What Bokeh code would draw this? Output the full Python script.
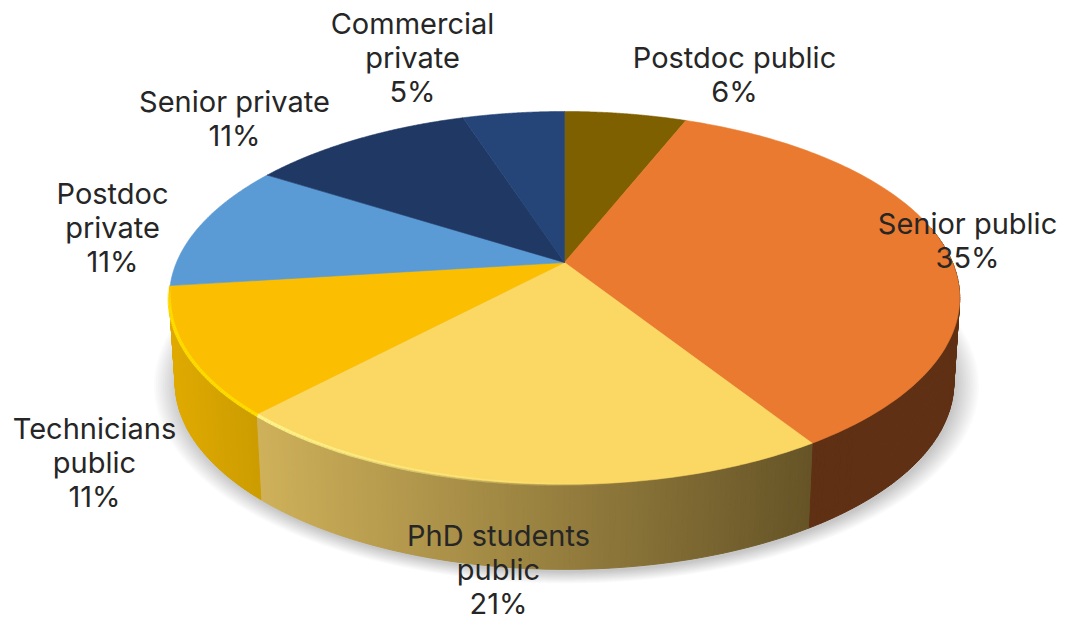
import numpy as np
from bokeh.core.properties import value
from bokeh.embed import file_html
from bokeh.models import ColumnDataSource, Range1d
from bokeh.plotting import figure
from bokeh.resources import INLINE

# Workforce shares, clockwise from twelve o'clock
categories = ["Postdoc public", "Senior public", "PhD students public", "Technicians public",
              "Postdoc private", "Senior private", "Commercial private"]
shares = [6, 35, 21, 11, 11, 11, 5]
label_lines = [["Postdoc public", "6%"], ["Senior public", "35%"],
               ["PhD students", "public", "21%"], ["Technicians", "public", "11%"],
               ["Postdoc", "private", "11%"], ["Senior private", "11%"],
               ["Commercial", "private", "5%"]]

top_colors = ["#7f6000", "#ea7a2f", "#fbd763", "#fbbe00", "#5b9bd5", "#1f3864", "#254478"]
side_left = ["#7f6000", "#5f3013", "#cfb15a", "#e0aa00", "#5b9bd5", "#1f3864", "#254478"]
side_right = ["#7f6000", "#5f3013", "#665427", "#cc9c00", "#5b9bd5", "#1f3864", "#254478"]
label_x = [734, 967, 498, 94, 112, 234, 412]
label_y = [57, 223, 535, 428, 193, 101, 23]
LINE_STEP = 33.8

# Projection of the tilted disc onto the page
CX, CY, RX, RY, PERSP = 564.0, 262.0, 388.0, 179.7, 0.19
DEPTH, BASE_SCALE = 85.0, 0.985


def rim(t):
    u, v = np.sin(t), np.cos(t)
    d = 1 + PERSP * v
    return CX + RX * u / d, CY - RY * v / d


def base(t, grow=1.0, dx=0.0, dy=0.0):
    x, y = rim(t)
    mid_y = CY + 36
    return (CX + (x - CX) * BASE_SCALE * grow + dx,
            mid_y + (y - mid_y) * grow + DEPTH + dy)


def mix(a, b, f):
    ca = np.array([int(a[i:i + 2], 16) for i in (1, 3, 5)], float)
    cb = np.array([int(b[i:i + 2], 16) for i in (1, 3, 5)], float)
    c = ca + (cb - ca) * f
    return "#%02x%02x%02x" % tuple(int(round(n)) for n in c)


p = figure(width=1066, height=621, output_backend="svg", toolbar_location=None,
           x_range=Range1d(0, 1066), y_range=Range1d(621, 0), min_border=0,
           x_axis_type=None, y_axis_type=None, outline_line_color=None)
p.grid.visible = False
p.background_fill_color = "#ffffff"
p.border_fill_color = "#ffffff"

# Soft drop shadow under the disc
ring = np.linspace(0, 2 * np.pi, 240)
for grow in np.linspace(1.06, 1.0, 14):
    sx, sy = base(ring, grow, dx=2, dy=3)
    p.patch(sx, sy, fill_color="#000000", fill_alpha=0.014, line_color=None)

edges = np.cumsum([0] + shares) / sum(shares) * 2 * np.pi

# Outer wall of the three front slices, built from narrow strips so its
# shade can vary along the rim
xs, ys, cols = [], [], []
for i in (1, 2, 3):
    a, b = max(edges[i], np.pi / 2 - 0.2), edges[i + 1]
    n = max(2, int((b - a) / 0.012))
    steps = np.linspace(a, b, n + 1)
    x0 = rim(edges[i + 1])[0]
    x1 = rim(edges[i])[0]
    for s0, s1 in zip(steps[:-1], steps[1:]):
        tx0, ty0 = rim(s0)
        tx1, ty1 = rim(s1)
        bx0, by0 = base(s0)
        bx1, by1 = base(s1)
        xs.append([tx0, tx1, bx1, bx0])
        ys.append([ty0, ty1, by1, by0])
        f = np.clip(((tx0 + tx1) / 2 - x0) / max(x1 - x0, 1), 0, 1)
        cols.append(mix(side_left[i], side_right[i], f))
p.patches(xs, ys, fill_color=cols, line_color=cols, line_width=1)

# Top face
for i, name in enumerate(categories):
    arc = np.linspace(edges[i], edges[i + 1], 120)
    ax, ay = rim(arc)
    src = ColumnDataSource(dict(x=np.r_[CX, ax], y=np.r_[CY, ay]))
    p.patch("x", "y", source=src, fill_color=top_colors[i],
            line_color=top_colors[i], line_width=0.6)

# Bevel glint along the lit front edge, fading out towards the centre
glint = np.linspace(edges[4], edges[2] + 0.45, 140)
gx, gy = rim(glint)
seg_x = [[gx[j], gx[j + 1]] for j in range(len(gx) - 1)]
seg_y = [[gy[j], gy[j + 1]] for j in range(len(gy) - 1)]
seg_c, seg_a = [], []
for j in range(len(gx) - 1):
    t = glint[j]
    if t > edges[3]:
        seg_c.append("#ffdc00")
        seg_a.append(min(1.0, (edges[4] - t) / 0.12 + 0.2))
    else:
        seg_c.append("#fff48a")
        seg_a.append(float((t - glint[-1]) / (edges[3] - glint[-1])))
p.multi_line(seg_x, seg_y, line_color=seg_c, line_alpha=seg_a, line_width=3.5)

# Category labels, one text per line
tx, ty, tt = [], [], []
for lines, lx, ly in zip(label_lines, label_x, label_y):
    for k, line in enumerate(lines):
        tx.append(lx)
        ty.append(ly + k * LINE_STEP)
        tt.append(line)
p.text(tx, ty, text=tt, text_align="center", text_baseline="middle", text_line_height=1.0,
       text_font=value("Inter"), text_font_size="29px", text_color="#262626")

open("out.html", "w").write(file_html(p, INLINE))
